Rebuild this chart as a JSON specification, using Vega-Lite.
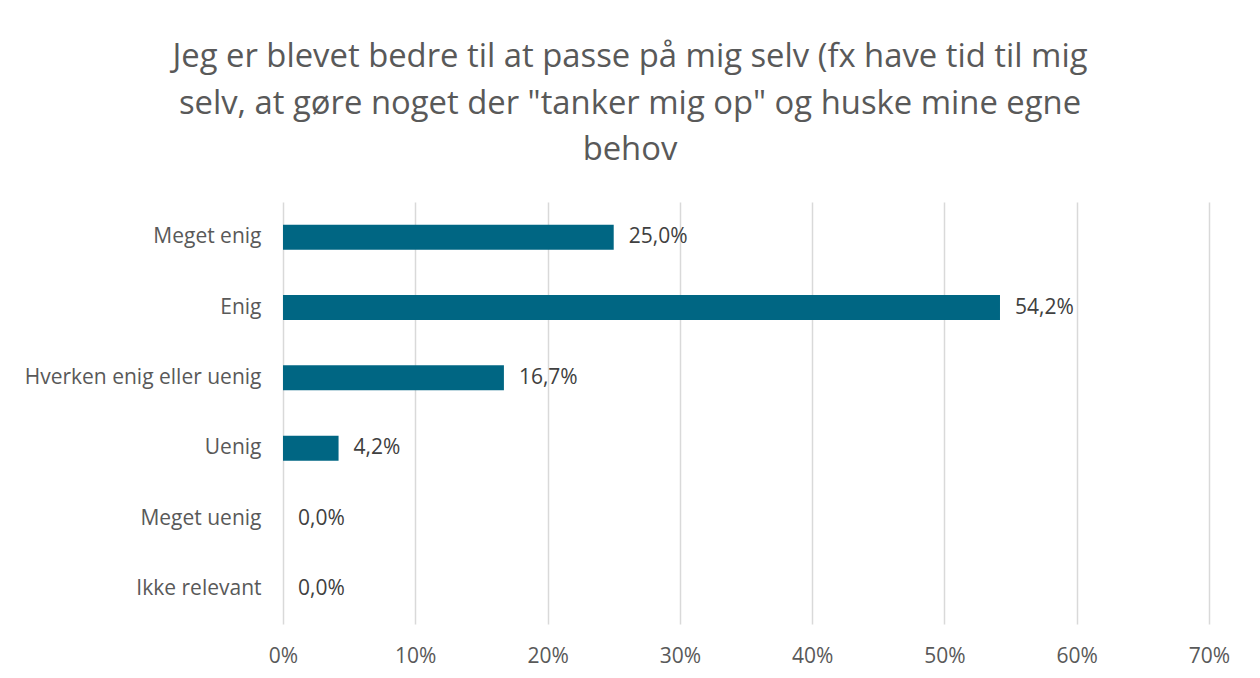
{
  "$schema": "https://vega.github.io/schema/vega-lite/v6.json",
  "autosize": {"type": "none"},
  "width": 926,
  "height": 422,
  "padding": {"left": 283, "top": 202, "right": 51, "bottom": 54},
  "background": "white",
  "config": {
    "locale": {"number": {"decimal": ",", "thousands": ".", "grouping": [3], "currency": ["", " kr"]}},
    "view": {"stroke": null},
    "font": "Open Sans"
  },
  "title": {
    "text": ["Jeg er blevet bedre til at passe på mig selv (fx have tid til mig", "selv, at gøre noget der \"tanker mig op\" og huske mine egne", "behov"],
    "anchor": "middle",
    "frame": "group",
    "dx": -116,
    "offset": 35,
    "fontSize": 32.8,
    "fontWeight": "normal",
    "font": "Open Sans",
    "color": "#595959",
    "lineHeight": 46.5
  },
  "data": {
    "values": [
      {"svar": "Meget enig", "andel": 0.25},
      {"svar": "Enig", "andel": 0.542},
      {"svar": "Hverken enig eller uenig", "andel": 0.167},
      {"svar": "Uenig", "andel": 0.042},
      {"svar": "Meget uenig", "andel": 0.0},
      {"svar": "Ikke relevant", "andel": 0.0}
    ]
  },
  "encoding": {
    "y": {
      "field": "svar",
      "type": "nominal",
      "sort": null,
      "scale": {"paddingInner": 0.645, "paddingOuter": 0.3225},
      "axis": {
        "title": null,
        "domain": false,
        "ticks": false,
        "labelFontSize": 21,
        "labelColor": "#595959",
        "labelPadding": 22,
        "labelLimit": 400,
        "labelFont": "Open Sans"
      }
    },
    "x": {
      "field": "andel",
      "type": "quantitative",
      "scale": {"domain": [0, 0.7], "nice": false},
      "axis": {
        "title": null,
        "format": ".0%",
        "values": [0, 0.1, 0.2, 0.3, 0.4, 0.5, 0.6, 0.7],
        "domain": false,
        "ticks": false,
        "grid": true,
        "gridColor": "#d9d9d9",
        "gridWidth": 1.5,
        "labelFlush": false,
        "labelFontSize": 21,
        "labelColor": "#595959",
        "labelPadding": 21,
        "labelFont": "Open Sans"
      }
    }
  },
  "layer": [
    {"mark": {"type": "bar", "color": "#006683"}},
    {
      "mark": {"type": "text", "align": "left", "baseline": "middle", "dx": 15, "fontSize": 21, "color": "#404040", "font": "Open Sans"},
      "encoding": {"text": {"field": "andel", "type": "quantitative", "format": ".1%"}}
    }
  ]
}
